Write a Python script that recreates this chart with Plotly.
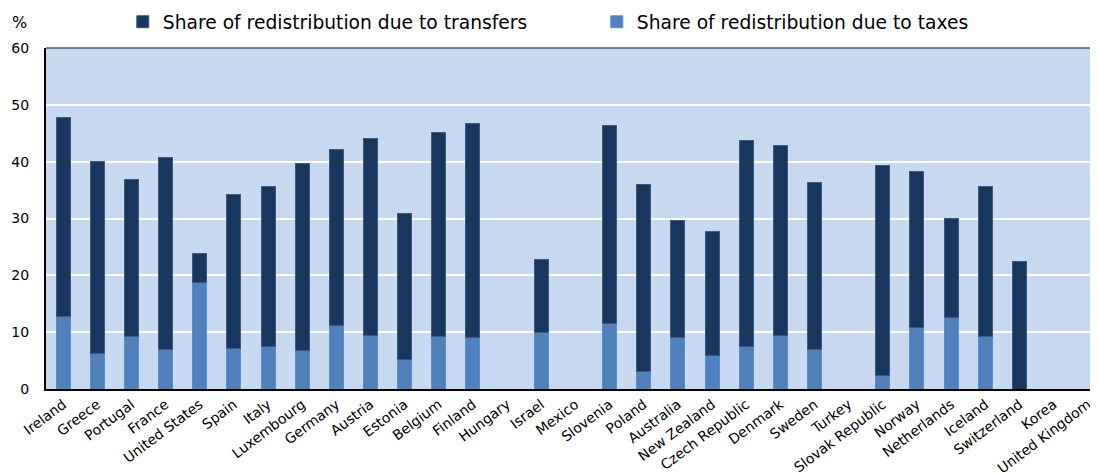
import plotly.graph_objects as go

countries = ["Ireland", "Greece", "Portugal", "France", "United States", "Spain", "Italy",
             "Luxembourg", "Germany", "Austria", "Estonia", "Belgium", "Finland", "Hungary",
             "Israel", "Mexico", "Slovenia", "Poland", "Australia", "New Zealand",
             "Czech Republic", "Denmark", "Sweden", "Turkey", "Slovak Republic", "Norway",
             "Netherlands", "Iceland", "Switzerland", "Korea", "United Kingdom"]

taxes = [12.8, 6.3, 9.3, 7.0, 18.8, 7.2, 7.4, 6.7, 11.1, 9.4, 5.2, 9.2, 9.0, None,
         10.0, None, 11.6, 3.0, 9.1, 5.9, 7.5, 9.4, 6.9, None, 2.3, 10.8,
         12.5, 9.3, 0.0, None, None]

transfers = [34.9, 33.8, 27.5, 33.8, 5.1, 27.1, 28.2, 33.0, 31.1, 34.7, 25.7, 35.9, 37.7, None,
             12.8, None, 34.7, 32.9, 20.5, 21.8, 36.2, 33.5, 29.5, None, 37.0, 27.5,
             17.5, 26.3, 22.5, None, None]

name_transfers = "Share of redistribution due to transfers"
name_taxes = "Share of redistribution due to taxes"

DARK = "#17375e"
LIGHT = "#4f81bd"
FONT = "DejaVu Sans, Arial, sans-serif"

fig = go.Figure()
fig.add_trace(go.Bar(x=countries, y=taxes, name=name_taxes, width=0.41,
                     marker=dict(color=LIGHT, line=dict(color="#5a8fd8", width=1)),
                     legendrank=2))
fig.add_trace(go.Bar(x=countries, y=transfers, name=name_transfers, width=0.41,
                     marker=dict(color=DARK, line=dict(color="#3d5a80", width=1)),
                     legendrank=1))

fig.update_layout(
    width=1098, height=474,
    barmode="stack",
    paper_bgcolor="white",
    plot_bgcolor="#c6d9f0",
    font=dict(family=FONT, size=14, color="#000000"),
    margin=dict(l=38, r=8, t=40, b=93, autoexpand=False),
    showlegend=True,
    legend=dict(orientation="h", x=0.073, xanchor="left", y=1.076, yanchor="middle",
                font=dict(size=18.7), entrywidth=429, entrywidthmode="pixels",
                itemwidth=30, traceorder="normal", bgcolor="rgba(0,0,0,0)"),
    xaxis=dict(range=[-0.5, 30.3], tickangle=-37, showline=True, linecolor="black",
               linewidth=2, showgrid=False, ticks="", tickfont=dict(size=14),
               mirror=False, fixedrange=True, automargin=False),
    yaxis=dict(range=[0, 60], dtick=10, showline=True, linecolor="black", linewidth=2,
               showgrid=True, gridcolor="white", gridwidth=2, ticks="",
               tickfont=dict(size=14), ticklabelstandoff=12, zeroline=False,
               automargin=False),
    annotations=[dict(text="%", x=0, xref="paper", xanchor="right", xshift=-17,
                      y=1, yref="paper", yanchor="bottom", yshift=14, showarrow=False,
                      font=dict(size=16))],
    shapes=[dict(type="line", xref="paper", yref="paper", x0=0, x1=1, y0=1, y1=1,
                 line=dict(color="#555555", width=1.5))],
)

fig.write_html("out.html")
